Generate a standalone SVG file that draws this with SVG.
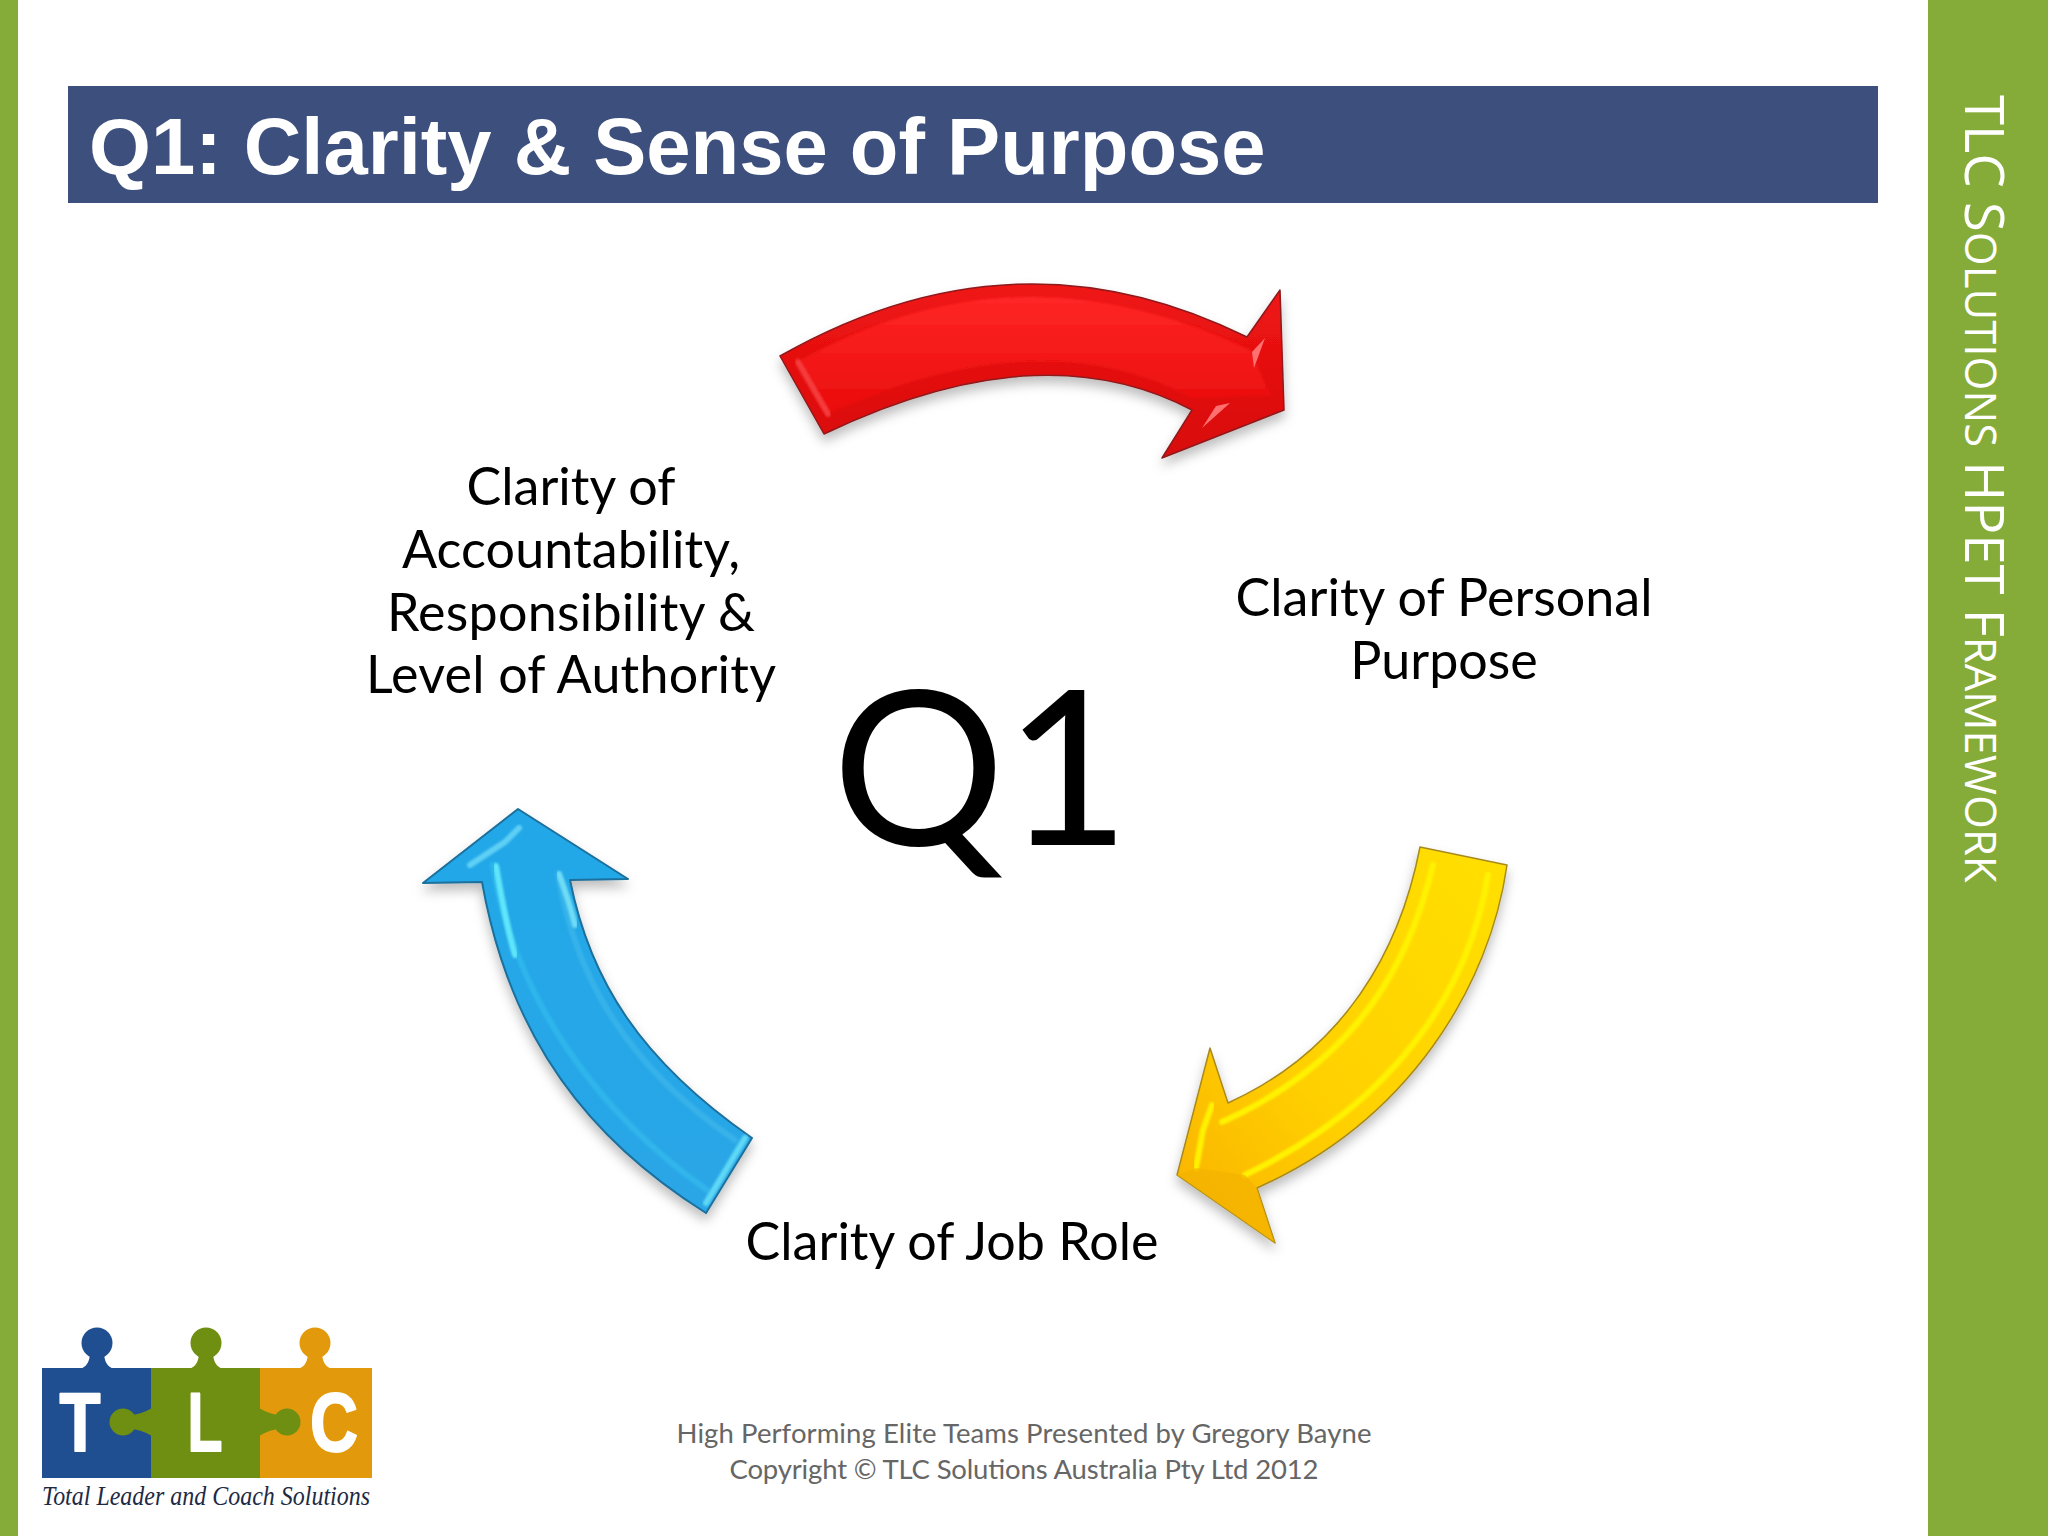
<svg xmlns="http://www.w3.org/2000/svg" width="2048" height="1536" viewBox="0 0 2048 1536">
<style>
.lbl{font-family:"Lato","Liberation Sans",sans-serif;font-size:52px;fill:#000;text-anchor:middle}
.foot{font-family:"Lato","Liberation Sans",sans-serif;font-size:27.5px;fill:#666;text-anchor:middle}
.logoL{font-family:"Liberation Sans",Arial,sans-serif;font-weight:700;font-size:84px;fill:#fff;stroke:#fff;stroke-width:2;stroke-linejoin:round;text-anchor:middle}
.band{fill:none;stroke-width:6;stroke-linecap:round;filter:url(#soft)}
</style>
<defs>
<filter id="shadow" x="-20%" y="-20%" width="140%" height="140%"><feDropShadow dx="0" dy="7" stdDeviation="6" flood-color="#000" flood-opacity=".26"/></filter>
<filter id="soft" x="-10%" y="-10%" width="120%" height="120%"><feGaussianBlur stdDeviation="1.2"/></filter>
<linearGradient id="redB" x1="0" y1="0" x2="0" y2="1"><stop offset="0" stop-color="#f01616"/><stop offset="1" stop-color="#d80808"/></linearGradient>
<linearGradient id="redG" x1="0" y1="0" x2="0" y2="1"><stop offset="0" stop-color="#ff2626"/><stop offset="1" stop-color="#ea0c0c"/></linearGradient>
<linearGradient id="yelG" x1="1" y1="0" x2="0" y2="1"><stop offset="0" stop-color="#ffe000"/><stop offset=".6" stop-color="#ffd000"/><stop offset="1" stop-color="#f9b000"/></linearGradient>
<linearGradient id="bluG" x1="0" y1="0" x2="0" y2="1"><stop offset="0" stop-color="#22a8e8"/><stop offset="1" stop-color="#2aa6e6"/></linearGradient>
</defs>
<rect id="background" width="2048" height="1536" fill="#fff"/>
<rect id="left-bar" x="0" y="0" width="18" height="1536" fill="#85ac38"/>
<rect id="right-bar" x="1928" y="0" width="120" height="1536" fill="#85ac38"/>
<g id="title"><rect x="68" y="86" width="1810" height="117" fill="#3d4f7c"/>
<text x="89" y="174" font-family="Liberation Sans,Arial,sans-serif" font-weight="700" font-size="79.6" fill="#fff">Q1: Clarity &amp; Sense of Purpose</text></g>
<g id="side-title"><text transform="translate(1965,95) rotate(90)" font-family="Open Sans,Noto Sans,sans-serif" font-size="54.5" fill="#fff">TLC S<tspan font-size="43.6">OLUTIONS</tspan> HPET F<tspan font-size="43.6">RAMEWORK</tspan></text></g>
<g id="connectors">
<g id="arrow-red" filter="url(#shadow)">
<path d="M780,356 Q1015,222 1247,337 L1280,290 L1284,410 L1162,458 L1192,410 Q1040,330 824,434 Z" fill="url(#redB)" stroke="#8e1a1c" stroke-width="1.5" stroke-linejoin="round"/>
<path d="M798,362 Q1015,238 1250,350 L1270,395 L1192,398 Q1040,316 828,414 Z" fill="url(#redG)" filter="url(#soft)"/>
<path d="M1265,338 L1252,352 L1254,368 Z" fill="#ff7070"/><path d="M1230,403 L1216,406 L1202,428 Z" fill="#ff7070"/>
<path d="M798,362 L828,414" class="band" stroke="#f53a3a"/>
</g>
<g id="arrow-yellow" filter="url(#shadow)">
<path d="M1420,847 L1507,865 C1490,985 1410,1120 1257,1188 L1275,1243 L1177,1175 L1210,1048 L1228,1103 C1345,1050 1400,950 1420,847 Z" fill="url(#yelG)" stroke="#a88a1c" stroke-width="1.5" stroke-linejoin="round"/>
<path d="M1433,865 C1410,960 1360,1060 1222,1122" class="band" stroke="#fff200"/>
<path d="M1488,875 C1470,985 1400,1100 1245,1175" class="band" stroke="#fff200"/>
<path d="M1212,1105 L1203,1130 L1196,1168" class="band" stroke="#fff200"/>
<path d="M1177,1175 L1275,1243 L1257,1188 L1245,1175 L1196,1168 Z" fill="#f2b000" opacity=".6"/>
</g>
<g id="arrow-blue" filter="url(#shadow)">
<path d="M518,809 L628,879 L570,880 C590,980 640,1060 752,1138 L706,1213 C590,1140 510,1040 482,882 L423,883 Z" fill="url(#bluG)" stroke="#1c6f9c" stroke-width="2" stroke-linejoin="round"/>
<path d="M493,865 C515,1000 600,1115 707,1190" class="band" stroke="#3fd0f5" opacity=".35"/>
<path d="M558,874 C575,975 625,1065 735,1140" class="band" stroke="#55c8f0" opacity=".35"/>
<path d="M496,866 C502,900 506,925 515,955" class="band" stroke="#5fe6fa"/>
<path d="M559,874 C565,890 570,905 575,925" class="band" stroke="#6fdcf5"/>
<path d="M519,828 L505,842 L470,865" class="band" stroke="#5fd0f5"/>
<path d="M745,1138 L706,1203" class="band" stroke="#5fd8f5"/>
</g>
</g>
<g id="node-q1"><text x="981" y="845" font-family="Lato,Liberation Sans,sans-serif" font-size="216" fill="#000" text-anchor="middle">Q1</text></g>
<g id="node-accountability"><text class="lbl" x="571" y="505">Clarity of</text><text class="lbl" x="571" y="568" textLength="338">Accountability,</text><text class="lbl" x="571" y="631" textLength="368">Responsibility &amp;</text><text class="lbl" x="571" y="693" textLength="410">Level of Authority</text></g>
<g id="node-purpose"><text class="lbl" x="1444" y="616" textLength="417">Clarity of Personal</text><text class="lbl" x="1444" y="679">Purpose</text></g>
<g id="node-job-role"><text class="lbl" x="952" y="1260">Clarity of Job Role</text></g>
<g id="footer"><text class="foot" x="1024" y="1443" textLength="695">High Performing Elite Teams Presented by Gregory Bayne</text><text class="foot" x="1024" y="1479" textLength="589">Copyright © TLC Solutions Australia Pty Ltd 2012</text></g>
<g id="logo">
<g fill="#1f4e91"><rect x="42" y="1368" width="109" height="110"/><path d="M80,1369 Q90,1366 90,1352 L104,1352 Q104,1366 114,1369 Z"/><circle cx="97" cy="1343" r="15.5"/></g>
<g fill="#6f8f12"><rect x="151" y="1368" width="109" height="110"/><path d="M189,1369 Q199,1366 199,1352 L213,1352 Q213,1366 223,1369 Z"/><circle cx="206" cy="1343" r="15.5"/><path d="M152,1408 Q140,1415 130,1415 L130,1429 Q140,1429 152,1436 Z"/><circle cx="123" cy="1422" r="13.5"/></g>
<g fill="#e29a0c"><rect x="260" y="1368" width="112" height="110"/><path d="M298,1369 Q308,1366 308,1352 L322,1352 Q322,1366 332,1369 Z"/><circle cx="315" cy="1343" r="15.5"/></g>
<g fill="#6f8f12"><path d="M259,1408 Q271,1415 280,1415 L280,1429 Q271,1429 259,1436 Z"/><circle cx="287" cy="1422" r="13.5"/></g>
<text class="logoL" x="80" y="1451" textLength="41" lengthAdjust="spacingAndGlyphs">T</text><text class="logoL" x="205" y="1451" textLength="35" lengthAdjust="spacingAndGlyphs">L</text><text class="logoL" x="334" y="1451" textLength="48" lengthAdjust="spacingAndGlyphs">C</text>
<text x="42" y="1505" font-family="Liberation Serif,serif" font-style="italic" font-size="28" fill="#1e2a44" textLength="328" lengthAdjust="spacingAndGlyphs">Total Leader and Coach Solutions</text>
</g>
</svg>
